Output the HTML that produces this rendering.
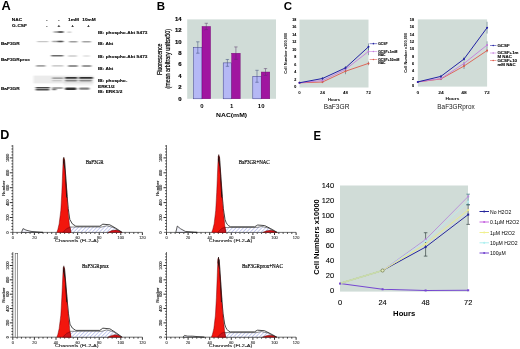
<!DOCTYPE html>
<html lang="en"><head><meta charset="utf-8"><title>Figure</title>
<style>
html,body{margin:0;padding:0;background:#fff;}
body{width:520px;height:349px;overflow:hidden;}
svg{display:block;}
.sf{font-family:"Liberation Sans",sans-serif;}
.se{font-family:"Liberation Serif",serif;}
</style></head><body>
<svg width="520" height="349" viewBox="0 0 520 349">
<defs>
<filter id="b1" x="-20%" y="-100%" width="140%" height="300%"><feGaussianBlur stdDeviation="1.1 0.55"/></filter>
<filter id="b2" x="-20%" y="-100%" width="140%" height="300%"><feGaussianBlur stdDeviation="1.6 0.9"/></filter>
<filter id="soft" x="-5%" y="-5%" width="110%" height="110%"><feGaussianBlur stdDeviation="0.35"/></filter>
<pattern id="hatch" width="2.6" height="2.6" patternUnits="userSpaceOnUse" patternTransform="rotate(-45)"><rect width="2.6" height="2.6" fill="#fff"/><rect width="2.6" height="0.7" fill="#b0b8ea"/></pattern>
</defs>
<rect width="520" height="349" fill="#fff"/>
<g filter="url(#soft)">
<text class="sf" font-size="12.2" font-weight="700" transform="translate(1.50 10.37) scale(1.05 1)" x="0" y="0">A</text>
<text class="sf" font-size="11.5" font-weight="700" x="156.80" y="10.12">B</text>
<text class="sf" font-size="11.5" font-weight="700" x="283.80" y="10.12">C</text>
<text class="sf" font-size="12.6" font-weight="700" x="0.20" y="139.01">D</text>
<text class="sf" font-size="11.9" font-weight="700" transform="translate(313.40 139.76) scale(0.95 1)" x="0" y="0">E</text>
<text class="sf" font-size="4.3" font-weight="700" stroke="#000" stroke-width="0.1" transform="translate(11.80 20.74) scale(1.11 1)" x="0" y="0">NAC</text>
<text class="sf" font-size="4.3" font-weight="700" stroke="#000" stroke-width="0.1" transform="translate(12.10 26.54) scale(1.11 1)" x="0" y="0">G-CSF</text>
<text class="sf" font-size="4.3" font-weight="700" text-anchor="middle" stroke="#000" stroke-width="0.1" transform="translate(46.70 20.74) scale(1.11 1)" x="0" y="0">-</text>
<text class="sf" font-size="4.3" font-weight="700" text-anchor="middle" stroke="#000" stroke-width="0.1" transform="translate(58.80 20.74) scale(1.11 1)" x="0" y="0">-</text>
<text class="sf" font-size="4.3" font-weight="700" text-anchor="middle" stroke="#000" stroke-width="0.1" transform="translate(73.50 20.74) scale(1.11 1)" x="0" y="0">1mM</text>
<text class="sf" font-size="4.3" font-weight="700" text-anchor="middle" stroke="#000" stroke-width="0.1" transform="translate(89.00 20.74) scale(1.11 1)" x="0" y="0">10mM</text>
<text class="sf" font-size="4.3" font-weight="700" text-anchor="middle" stroke="#000" stroke-width="0.1" transform="translate(46.70 26.54) scale(1.11 1)" x="0" y="0">-</text>
<text class="sf" font-size="4.3" font-weight="700" text-anchor="middle" stroke="#000" stroke-width="0.1" transform="translate(58.80 26.54) scale(1.11 1)" x="0" y="0">+</text>
<text class="sf" font-size="4.3" font-weight="700" text-anchor="middle" stroke="#000" stroke-width="0.1" transform="translate(72.70 26.54) scale(1.11 1)" x="0" y="0">+</text>
<text class="sf" font-size="4.3" font-weight="700" text-anchor="middle" stroke="#000" stroke-width="0.1" transform="translate(88.50 26.54) scale(1.11 1)" x="0" y="0">+</text>
<text class="sf" font-size="4.3" font-weight="700" stroke="#000" stroke-width="0.1" transform="translate(0.90 45.14) scale(1.11 1)" x="0" y="0">BaF3GR</text>
<text class="sf" font-size="4.3" font-weight="700" stroke="#000" stroke-width="0.1" transform="translate(0.90 61.04) scale(1.11 1)" x="0" y="0">BaF3GRprox</text>
<text class="sf" font-size="4.3" font-weight="700" stroke="#000" stroke-width="0.1" transform="translate(0.90 89.54) scale(1.11 1)" x="0" y="0">BaF3GR</text>
<text class="sf" font-size="4.3" font-weight="700" stroke="#000" stroke-width="0.1" transform="translate(98.00 33.54) scale(1.11 1)" x="0" y="0">IB: phospho-Akt S473</text>
<text class="sf" font-size="4.3" font-weight="700" stroke="#000" stroke-width="0.1" transform="translate(98.00 44.84) scale(1.11 1)" x="0" y="0">IB: Akt</text>
<text class="sf" font-size="4.3" font-weight="700" stroke="#000" stroke-width="0.1" transform="translate(98.00 58.24) scale(1.11 1)" x="0" y="0">IB: phospho-Akt S473</text>
<text class="sf" font-size="4.3" font-weight="700" stroke="#000" stroke-width="0.1" transform="translate(98.00 70.24) scale(1.11 1)" x="0" y="0">IB: Akt</text>
<text class="sf" font-size="4.3" font-weight="700" stroke="#000" stroke-width="0.1" transform="translate(98.00 82.34) scale(1.11 1)" x="0" y="0">IB: phospho-</text>
<text class="sf" font-size="4.3" font-weight="700" stroke="#000" stroke-width="0.1" transform="translate(98.00 87.84) scale(1.11 1)" x="0" y="0">ERK1/2</text>
<text class="sf" font-size="4.3" font-weight="700" stroke="#000" stroke-width="0.1" transform="translate(98.00 92.74) scale(1.11 1)" x="0" y="0">IB: ERK1/2</text>
<rect x="53.5" y="31.35" width="10.0" height="1.50" rx="0.75" fill="#000" opacity="0.4" filter="url(#b1)"/>
<rect x="58.0" y="31.35" width="5.5" height="1.50" rx="0.75" fill="#000" opacity="0.6" filter="url(#b1)"/>
<rect x="67.3" y="31.45" width="4.0" height="1.30" rx="0.65" fill="#000" opacity="0.25" filter="url(#b1)"/>
<rect x="37.0" y="40.95" width="11.5" height="1.30" rx="0.65" fill="#000" opacity="0.22" filter="url(#b1)"/>
<rect x="52.0" y="40.85" width="11.5" height="1.50" rx="0.75" fill="#000" opacity="0.35" filter="url(#b1)"/>
<rect x="57.5" y="40.85" width="5.8" height="1.50" rx="0.75" fill="#000" opacity="0.5" filter="url(#b1)"/>
<rect x="69.0" y="40.95" width="8.5" height="1.50" rx="0.75" fill="#000" opacity="0.38" filter="url(#b1)"/>
<rect x="82.0" y="40.95" width="9.0" height="1.50" rx="0.75" fill="#000" opacity="0.36" filter="url(#b1)"/>
<rect x="51.0" y="54.95" width="12.5" height="1.60" rx="0.80" fill="#000" opacity="0.58" filter="url(#b1)"/>
<rect x="68.0" y="55.35" width="9.0" height="1.30" rx="0.65" fill="#000" opacity="0.2" filter="url(#b1)"/>
<rect x="83.0" y="55.35" width="7.0" height="1.30" rx="0.65" fill="#000" opacity="0.12" filter="url(#b1)"/>
<rect x="36.0" y="65.00" width="9.5" height="1.80" rx="0.90" fill="#000" opacity="0.36" filter="url(#b1)"/>
<rect x="52.0" y="65.20" width="11.5" height="1.40" rx="0.70" fill="#000" opacity="0.26" filter="url(#b1)"/>
<rect x="68.0" y="65.10" width="9.8" height="1.80" rx="0.90" fill="#000" opacity="0.42" filter="url(#b1)"/>
<rect x="82.0" y="65.10" width="9.5" height="1.80" rx="0.90" fill="#000" opacity="0.4" filter="url(#b1)"/>
<rect x="33.5" y="75.6" width="60" height="7.8" fill="#000" opacity="0.08" filter="url(#b1)"/>
<rect x="64" y="82" width="29" height="3.5" fill="#000" opacity="0.05" filter="url(#b1)"/>
<rect x="52.0" y="77.45" width="11.5" height="1.30" rx="0.65" fill="#000" opacity="0.42" filter="url(#b1)"/>
<rect x="52.0" y="80.15" width="10.0" height="1.10" rx="0.55" fill="#000" opacity="0.2" filter="url(#b1)"/>
<rect x="65.0" y="77.00" width="12.5" height="1.80" rx="0.90" fill="#000" opacity="0.78" filter="url(#b1)"/>
<rect x="65.0" y="79.80" width="12.5" height="1.60" rx="0.80" fill="#000" opacity="0.45" filter="url(#b1)"/>
<rect x="79.0" y="77.00" width="14.0" height="1.80" rx="0.90" fill="#000" opacity="0.8" filter="url(#b1)"/>
<rect x="79.0" y="79.80" width="13.0" height="1.60" rx="0.80" fill="#000" opacity="0.42" filter="url(#b1)"/>
<rect x="35.5" y="87.05" width="14.5" height="1.50" rx="0.75" fill="#000" opacity="0.72" filter="url(#b1)"/>
<rect x="35.5" y="89.05" width="14.0" height="1.50" rx="0.75" fill="#000" opacity="0.7" filter="url(#b1)"/>
<rect x="52.0" y="87.35" width="11.0" height="1.30" rx="0.65" fill="#000" opacity="0.45" filter="url(#b1)"/>
<rect x="52.0" y="88.85" width="4.5" height="1.50" rx="0.75" fill="#000" opacity="0.55" filter="url(#b1)"/>
<rect x="65.0" y="87.40" width="11.5" height="2.60" rx="1.30" fill="#000" opacity="0.8" filter="url(#b1)"/>
<rect x="79.0" y="87.60" width="10.6" height="2.20" rx="1.10" fill="#000" opacity="0.5" filter="url(#b1)"/>
<rect x="187.20" y="19.40" width="88.80" height="79.40" fill="#d0dcd7" />
<text class="sf" font-size="5.0" font-weight="700" text-anchor="end" stroke="#000" stroke-width="0.15" transform="translate(181.60 100.69) scale(1.2 1)" x="0" y="0">0</text>
<text class="sf" font-size="5.0" font-weight="700" text-anchor="end" stroke="#000" stroke-width="0.15" transform="translate(181.60 89.29) scale(1.2 1)" x="0" y="0">2</text>
<text class="sf" font-size="5.0" font-weight="700" text-anchor="end" stroke="#000" stroke-width="0.15" transform="translate(181.60 77.89) scale(1.2 1)" x="0" y="0">4</text>
<text class="sf" font-size="5.0" font-weight="700" text-anchor="end" stroke="#000" stroke-width="0.15" transform="translate(181.60 66.49) scale(1.2 1)" x="0" y="0">6</text>
<text class="sf" font-size="5.0" font-weight="700" text-anchor="end" stroke="#000" stroke-width="0.15" transform="translate(181.60 55.09) scale(1.2 1)" x="0" y="0">8</text>
<text class="sf" font-size="5.0" font-weight="700" text-anchor="end" stroke="#000" stroke-width="0.15" transform="translate(181.60 43.69) scale(1.2 1)" x="0" y="0">10</text>
<text class="sf" font-size="5.0" font-weight="700" text-anchor="end" stroke="#000" stroke-width="0.15" transform="translate(181.60 32.29) scale(1.2 1)" x="0" y="0">12</text>
<text class="sf" font-size="5.0" font-weight="700" text-anchor="end" stroke="#000" stroke-width="0.15" transform="translate(181.60 20.89) scale(1.2 1)" x="0" y="0">14</text>
<rect x="193.60" y="47.50" width="8.40" height="51.30" fill="#b5b8f5" stroke="#3a3a8a" stroke-width="0.5" />
<rect x="202.00" y="26.41" width="8.60" height="72.39" fill="#a012a0" stroke="#701070" stroke-width="0.4" />
<line x1="197.80" y1="41.80" x2="197.80" y2="53.20" stroke="#3a4a7a" stroke-width="0.5" />
<line x1="196.10" y1="41.80" x2="199.50" y2="41.80" stroke="#3a4a7a" stroke-width="0.5" />
<line x1="196.10" y1="53.20" x2="199.50" y2="53.20" stroke="#3a4a7a" stroke-width="0.5" />
<line x1="206.30" y1="23.28" x2="206.30" y2="29.55" stroke="#5a3a6a" stroke-width="0.5" />
<line x1="204.60" y1="23.28" x2="208.00" y2="23.28" stroke="#5a3a6a" stroke-width="0.5" />
<line x1="204.60" y1="29.55" x2="208.00" y2="29.55" stroke="#5a3a6a" stroke-width="0.5" />
<text class="sf" font-size="5.0" font-weight="700" text-anchor="middle" transform="translate(202.00 107.99) scale(1.2 1)" x="0" y="0">0</text>
<rect x="223.20" y="62.89" width="8.40" height="35.91" fill="#b5b8f5" stroke="#3a3a8a" stroke-width="0.5" />
<rect x="231.60" y="53.20" width="8.60" height="45.60" fill="#a012a0" stroke="#701070" stroke-width="0.4" />
<line x1="227.40" y1="59.47" x2="227.40" y2="66.31" stroke="#3a4a7a" stroke-width="0.5" />
<line x1="225.70" y1="59.47" x2="229.10" y2="59.47" stroke="#3a4a7a" stroke-width="0.5" />
<line x1="225.70" y1="66.31" x2="229.10" y2="66.31" stroke="#3a4a7a" stroke-width="0.5" />
<line x1="235.90" y1="46.93" x2="235.90" y2="59.47" stroke="#5a3a6a" stroke-width="0.5" />
<line x1="234.20" y1="46.93" x2="237.60" y2="46.93" stroke="#5a3a6a" stroke-width="0.5" />
<line x1="234.20" y1="59.47" x2="237.60" y2="59.47" stroke="#5a3a6a" stroke-width="0.5" />
<text class="sf" font-size="5.0" font-weight="700" text-anchor="middle" transform="translate(231.60 107.99) scale(1.2 1)" x="0" y="0">1</text>
<rect x="252.80" y="76.28" width="8.40" height="22.52" fill="#b5b8f5" stroke="#3a3a8a" stroke-width="0.5" />
<rect x="261.20" y="72.01" width="8.60" height="26.79" fill="#a012a0" stroke="#701070" stroke-width="0.4" />
<line x1="257.00" y1="70.30" x2="257.00" y2="82.27" stroke="#3a4a7a" stroke-width="0.5" />
<line x1="255.30" y1="70.30" x2="258.70" y2="70.30" stroke="#3a4a7a" stroke-width="0.5" />
<line x1="255.30" y1="82.27" x2="258.70" y2="82.27" stroke="#3a4a7a" stroke-width="0.5" />
<line x1="265.50" y1="68.59" x2="265.50" y2="75.43" stroke="#5a3a6a" stroke-width="0.5" />
<line x1="263.80" y1="68.59" x2="267.20" y2="68.59" stroke="#5a3a6a" stroke-width="0.5" />
<line x1="263.80" y1="75.43" x2="267.20" y2="75.43" stroke="#5a3a6a" stroke-width="0.5" />
<text class="sf" font-size="5.0" font-weight="700" text-anchor="middle" transform="translate(261.20 107.99) scale(1.2 1)" x="0" y="0">10</text>
<text class="sf" font-size="5.0" font-weight="700" text-anchor="middle" textLength="31" lengthAdjust="spacingAndGlyphs" x="231.60" y="116.79">NAC(mM)</text>
<text class="sf" font-size="6.7" text-anchor="middle" textLength="31.5" lengthAdjust="spacingAndGlyphs" stroke="#000" stroke-width="0.2" transform="translate(159.70 59.20) rotate(-90)" x="0" y="2.01">Fluorescence</text>
<text class="sf" font-size="6.7" text-anchor="middle" textLength="59.6" lengthAdjust="spacingAndGlyphs" stroke="#000" stroke-width="0.2" transform="translate(167.80 58.80) rotate(-90)" x="0" y="2.01">(mean arbitrary unitsx50)</text>
<rect x="299.50" y="19.60" width="69.00" height="67.90" fill="#d0dcd7" />
<text class="sf" font-size="3.65" font-weight="700" text-anchor="end" stroke="#000" stroke-width="0.1" x="296.30" y="88.11">0</text>
<text class="sf" font-size="3.65" font-weight="700" text-anchor="end" stroke="#000" stroke-width="0.1" x="296.30" y="80.65">2</text>
<text class="sf" font-size="3.65" font-weight="700" text-anchor="end" stroke="#000" stroke-width="0.1" x="296.30" y="73.20">4</text>
<text class="sf" font-size="3.65" font-weight="700" text-anchor="end" stroke="#000" stroke-width="0.1" x="296.30" y="65.74">6</text>
<text class="sf" font-size="3.65" font-weight="700" text-anchor="end" stroke="#000" stroke-width="0.1" x="296.30" y="58.28">8</text>
<text class="sf" font-size="3.65" font-weight="700" text-anchor="end" stroke="#000" stroke-width="0.1" x="296.30" y="50.83">10</text>
<text class="sf" font-size="3.65" font-weight="700" text-anchor="end" stroke="#000" stroke-width="0.1" x="296.30" y="43.37">12</text>
<text class="sf" font-size="3.65" font-weight="700" text-anchor="end" stroke="#000" stroke-width="0.1" x="296.30" y="35.92">14</text>
<text class="sf" font-size="3.65" font-weight="700" text-anchor="end" stroke="#000" stroke-width="0.1" x="296.30" y="28.46">16</text>
<text class="sf" font-size="3.65" font-weight="700" text-anchor="end" stroke="#000" stroke-width="0.1" x="296.30" y="21.01">18</text>
<text class="sf" font-size="3.8" font-weight="700" text-anchor="middle" transform="translate(299.50 93.96) scale(1.15 1)" x="0" y="0">0</text>
<text class="sf" font-size="3.8" font-weight="700" text-anchor="middle" transform="translate(322.50 93.96) scale(1.15 1)" x="0" y="0">24</text>
<text class="sf" font-size="3.8" font-weight="700" text-anchor="middle" transform="translate(345.50 93.96) scale(1.15 1)" x="0" y="0">48</text>
<text class="sf" font-size="3.8" font-weight="700" text-anchor="middle" transform="translate(368.50 93.96) scale(1.15 1)" x="0" y="0">72</text>
<text class="sf" font-size="3.8" font-weight="700" text-anchor="middle" transform="translate(334.00 101.16) scale(1.12 1)" x="0" y="0">Hours</text>
<text class="sf" font-size="6.6" text-anchor="middle" fill="#222" x="336.60" y="109.06">BaF3GR</text>
<text class="sf" font-size="3.7" font-weight="700" text-anchor="middle" textLength="41.0" lengthAdjust="spacingAndGlyphs" transform="translate(286.00 53.20) rotate(-90)" x="0" y="1.32">Cell Number x100,000</text>
<line x1="322.50" y1="80.91" x2="322.50" y2="83.14" stroke="#3a5a6a" stroke-width="0.5" />
<line x1="345.50" y1="68.23" x2="345.50" y2="74.20" stroke="#3a5a6a" stroke-width="0.5" />
<line x1="368.50" y1="61.52" x2="368.50" y2="65.25" stroke="#3a5a6a" stroke-width="0.5" />
<polyline points="299.50,82.77 322.50,82.03 345.50,71.22 368.50,63.39" fill="none" stroke="#dc5a4c" stroke-width="0.9" stroke-linejoin="round" />
<circle cx="299.50" cy="82.77" r="1.0" fill="#dc5a4c"/>
<circle cx="322.50" cy="82.03" r="1.0" fill="#dc5a4c"/>
<circle cx="345.50" cy="71.22" r="1.0" fill="#dc5a4c"/>
<circle cx="368.50" cy="63.39" r="1.0" fill="#dc5a4c"/>
<line x1="322.50" y1="79.42" x2="322.50" y2="81.65" stroke="#3a5a6a" stroke-width="0.5" />
<line x1="345.50" y1="67.86" x2="345.50" y2="70.84" stroke="#3a5a6a" stroke-width="0.5" />
<line x1="368.50" y1="47.73" x2="368.50" y2="55.19" stroke="#3a5a6a" stroke-width="0.5" />
<polyline points="299.50,82.77 322.50,80.54 345.50,69.35 368.50,51.46" fill="none" stroke="#c47cdc" stroke-width="0.9" stroke-linejoin="round" />
<circle cx="299.50" cy="82.77" r="1.0" fill="#c47cdc"/>
<circle cx="322.50" cy="80.54" r="1.0" fill="#c47cdc"/>
<circle cx="345.50" cy="69.35" r="1.0" fill="#c47cdc"/>
<circle cx="368.50" cy="51.46" r="1.0" fill="#c47cdc"/>
<line x1="322.50" y1="76.99" x2="322.50" y2="79.98" stroke="#3a5a6a" stroke-width="0.5" />
<line x1="345.50" y1="66.00" x2="345.50" y2="69.72" stroke="#3a5a6a" stroke-width="0.5" />
<line x1="368.50" y1="43.44" x2="368.50" y2="50.15" stroke="#3a5a6a" stroke-width="0.5" />
<polyline points="299.50,82.77 322.50,78.49 345.50,67.86 368.50,46.80" fill="none" stroke="#2222a4" stroke-width="1.0" stroke-linejoin="round" />
<circle cx="299.50" cy="82.77" r="1.0" fill="#2222a4"/>
<circle cx="322.50" cy="78.49" r="1.0" fill="#2222a4"/>
<circle cx="345.50" cy="67.86" r="1.0" fill="#2222a4"/>
<circle cx="368.50" cy="46.80" r="1.0" fill="#2222a4"/>
<line x1="369.60" y1="43.65" x2="377.20" y2="43.65" stroke="#2222a4" stroke-width="0.55" />
<circle cx="373.40" cy="43.65" r="0.8" fill="#2222a4"/>
<text class="sf" font-size="2.9" font-weight="700" stroke="#000" stroke-width="0.08" transform="translate(378.20 44.69) scale(1.18 1)" x="0" y="0">GCSF</text>
<line x1="369.60" y1="51.50" x2="377.20" y2="51.50" stroke="#c47cdc" stroke-width="0.55" />
<circle cx="373.40" cy="51.50" r="0.8" fill="#c47cdc"/>
<text class="sf" font-size="2.9" font-weight="700" stroke="#000" stroke-width="0.08" transform="translate(378.20 52.54) scale(1.18 1)" x="0" y="0">GCSF+1mM</text>
<text class="sf" font-size="2.9" font-weight="700" stroke="#000" stroke-width="0.08" transform="translate(378.20 55.94) scale(1.18 1)" x="0" y="0">NAC</text>
<line x1="369.60" y1="59.50" x2="377.20" y2="59.50" stroke="#dc5a4c" stroke-width="0.55" />
<circle cx="373.40" cy="59.50" r="0.8" fill="#dc5a4c"/>
<text class="sf" font-size="2.9" font-weight="700" stroke="#000" stroke-width="0.08" transform="translate(378.20 60.54) scale(1.18 1)" x="0" y="0">GCSF+10mM</text>
<text class="sf" font-size="2.9" font-weight="700" stroke="#000" stroke-width="0.08" transform="translate(378.20 63.84) scale(1.18 1)" x="0" y="0">NAC</text>
<rect x="417.80" y="19.40" width="69.30" height="67.20" fill="#d0dcd7" />
<text class="sf" font-size="3.75" font-weight="700" text-anchor="end" stroke="#000" stroke-width="0.1" x="414.00" y="87.24">0</text>
<text class="sf" font-size="3.75" font-weight="700" text-anchor="end" stroke="#000" stroke-width="0.1" x="414.00" y="79.86">2</text>
<text class="sf" font-size="3.75" font-weight="700" text-anchor="end" stroke="#000" stroke-width="0.1" x="414.00" y="72.49">4</text>
<text class="sf" font-size="3.75" font-weight="700" text-anchor="end" stroke="#000" stroke-width="0.1" x="414.00" y="65.11">6</text>
<text class="sf" font-size="3.75" font-weight="700" text-anchor="end" stroke="#000" stroke-width="0.1" x="414.00" y="57.73">8</text>
<text class="sf" font-size="3.75" font-weight="700" text-anchor="end" stroke="#000" stroke-width="0.1" x="414.00" y="50.35">10</text>
<text class="sf" font-size="3.75" font-weight="700" text-anchor="end" stroke="#000" stroke-width="0.1" x="414.00" y="42.98">12</text>
<text class="sf" font-size="3.75" font-weight="700" text-anchor="end" stroke="#000" stroke-width="0.1" x="414.00" y="35.60">14</text>
<text class="sf" font-size="3.75" font-weight="700" text-anchor="end" stroke="#000" stroke-width="0.1" x="414.00" y="28.22">16</text>
<text class="sf" font-size="3.75" font-weight="700" text-anchor="end" stroke="#000" stroke-width="0.1" x="414.00" y="20.84">18</text>
<text class="sf" font-size="4.3" font-weight="700" text-anchor="middle" transform="translate(417.80 93.54) scale(1.15 1)" x="0" y="0">0</text>
<text class="sf" font-size="4.3" font-weight="700" text-anchor="middle" transform="translate(440.90 93.54) scale(1.15 1)" x="0" y="0">24</text>
<text class="sf" font-size="4.3" font-weight="700" text-anchor="middle" transform="translate(464.00 93.54) scale(1.15 1)" x="0" y="0">48</text>
<text class="sf" font-size="4.3" font-weight="700" text-anchor="middle" transform="translate(487.10 93.54) scale(1.15 1)" x="0" y="0">72</text>
<text class="sf" font-size="4.3" font-weight="700" text-anchor="middle" transform="translate(452.40 99.84) scale(1.12 1)" x="0" y="0">Hours</text>
<text class="sf" font-size="6.4" text-anchor="middle" fill="#222" x="456.00" y="108.99">BaF3GRprox</text>
<text class="sf" font-size="3.9" font-weight="700" text-anchor="middle" textLength="39.8" lengthAdjust="spacingAndGlyphs" transform="translate(405.10 52.80) rotate(-90)" x="0" y="1.40">Cell Number x100,000</text>
<line x1="440.90" y1="77.85" x2="440.90" y2="80.07" stroke="#3a5a6a" stroke-width="0.5" />
<line x1="464.00" y1="63.10" x2="464.00" y2="69.00" stroke="#3a5a6a" stroke-width="0.5" />
<line x1="487.10" y1="48.71" x2="487.10" y2="52.40" stroke="#3a5a6a" stroke-width="0.5" />
<polyline points="417.80,81.91 440.90,78.96 464.00,66.05 487.10,50.56" fill="none" stroke="#dc5a4c" stroke-width="0.9" stroke-linejoin="round" />
<circle cx="417.80" cy="81.91" r="1.0" fill="#dc5a4c"/>
<circle cx="440.90" cy="78.96" r="1.0" fill="#dc5a4c"/>
<circle cx="464.00" cy="66.05" r="1.0" fill="#dc5a4c"/>
<circle cx="487.10" cy="50.56" r="1.0" fill="#dc5a4c"/>
<line x1="440.90" y1="77.48" x2="440.90" y2="79.70" stroke="#3a5a6a" stroke-width="0.5" />
<line x1="464.00" y1="61.99" x2="464.00" y2="64.94" stroke="#3a5a6a" stroke-width="0.5" />
<line x1="487.10" y1="41.33" x2="487.10" y2="48.71" stroke="#3a5a6a" stroke-width="0.5" />
<polyline points="417.80,81.91 440.90,78.59 464.00,63.47 487.10,45.02" fill="none" stroke="#c47cdc" stroke-width="0.9" stroke-linejoin="round" />
<circle cx="417.80" cy="81.91" r="1.0" fill="#c47cdc"/>
<circle cx="440.90" cy="78.59" r="1.0" fill="#c47cdc"/>
<circle cx="464.00" cy="63.47" r="1.0" fill="#c47cdc"/>
<circle cx="487.10" cy="45.02" r="1.0" fill="#c47cdc"/>
<line x1="440.90" y1="74.90" x2="440.90" y2="77.85" stroke="#3a5a6a" stroke-width="0.5" />
<line x1="464.00" y1="56.83" x2="464.00" y2="61.25" stroke="#3a5a6a" stroke-width="0.5" />
<line x1="487.10" y1="21.78" x2="487.10" y2="33.59" stroke="#3a5a6a" stroke-width="0.5" />
<polyline points="417.80,81.91 440.90,76.38 464.00,59.04 487.10,27.68" fill="none" stroke="#2222a4" stroke-width="1.0" stroke-linejoin="round" />
<circle cx="417.80" cy="81.91" r="1.0" fill="#2222a4"/>
<circle cx="440.90" cy="76.38" r="1.0" fill="#2222a4"/>
<circle cx="464.00" cy="59.04" r="1.0" fill="#2222a4"/>
<circle cx="487.10" cy="27.68" r="1.0" fill="#2222a4"/>
<line x1="490.00" y1="45.50" x2="496.40" y2="45.50" stroke="#2222a4" stroke-width="0.55" />
<circle cx="493.20" cy="45.50" r="0.8" fill="#2222a4"/>
<text class="sf" font-size="3.5" font-weight="700" stroke="#000" stroke-width="0.08" transform="translate(497.40 46.85) scale(1.26 1)" x="0" y="0">GCSF</text>
<line x1="490.00" y1="53.00" x2="496.40" y2="53.00" stroke="#c47cdc" stroke-width="0.55" />
<circle cx="493.20" cy="53.00" r="0.8" fill="#c47cdc"/>
<text class="sf" font-size="3.5" font-weight="700" stroke="#000" stroke-width="0.08" transform="translate(497.40 54.25) scale(1.26 1)" x="0" y="0">GCSF+1m</text>
<text class="sf" font-size="3.5" font-weight="700" stroke="#000" stroke-width="0.08" transform="translate(497.40 58.05) scale(1.26 1)" x="0" y="0">M NAC</text>
<line x1="490.00" y1="60.50" x2="496.40" y2="60.50" stroke="#dc5a4c" stroke-width="0.55" />
<circle cx="493.20" cy="60.50" r="0.8" fill="#dc5a4c"/>
<text class="sf" font-size="3.5" font-weight="700" stroke="#000" stroke-width="0.08" transform="translate(497.40 61.75) scale(1.26 1)" x="0" y="0">GCSF+10</text>
<text class="sf" font-size="3.5" font-weight="700" stroke="#000" stroke-width="0.08" transform="translate(497.40 65.95) scale(1.26 1)" x="0" y="0">mM NAC</text>
<line x1="12.80" y1="145.20" x2="12.80" y2="232.40" stroke="#1a1a1a" stroke-width="0.6" />
<line x1="10.20" y1="232.40" x2="142.40" y2="232.40" stroke="#1a1a1a" stroke-width="0.6" />
<path d="M11.50 229.42H12.80M11.50 226.44H12.80M11.50 223.46H12.80M11.50 220.48H12.80M9.80 217.50H12.80M11.50 214.52H12.80M11.50 211.54H12.80M11.50 208.56H12.80M11.50 205.58H12.80M9.80 202.60H12.80M11.50 199.62H12.80M11.50 196.64H12.80M11.50 193.66H12.80M11.50 190.68H12.80M9.80 187.70H12.80M11.50 184.72H12.80M11.50 181.74H12.80M11.50 178.76H12.80M11.50 175.78H12.80M9.80 172.80H12.80M11.50 169.82H12.80M11.50 166.84H12.80M11.50 163.86H12.80M11.50 160.88H12.80M9.80 157.90H12.80M11.50 154.92H12.80M11.50 151.94H12.80M11.50 148.96H12.80M11.50 145.98H12.80" fill="none" stroke="#1a1a1a" stroke-width="0.9" />
<text class="sf" font-size="3.8" text-anchor="middle" fill="#222" stroke="#222" stroke-width="0.1" transform="translate(7.40 217.50) rotate(-90)" x="0" y="1.36">200</text>
<text class="sf" font-size="3.8" text-anchor="middle" fill="#222" stroke="#222" stroke-width="0.1" transform="translate(7.40 202.60) rotate(-90)" x="0" y="1.36">400</text>
<text class="sf" font-size="3.8" text-anchor="middle" fill="#222" stroke="#222" stroke-width="0.1" transform="translate(7.40 187.70) rotate(-90)" x="0" y="1.36">600</text>
<text class="sf" font-size="3.8" text-anchor="middle" fill="#222" stroke="#222" stroke-width="0.1" transform="translate(7.40 172.80) rotate(-90)" x="0" y="1.36">800</text>
<text class="sf" font-size="3.8" text-anchor="middle" fill="#222" stroke="#222" stroke-width="0.1" transform="translate(7.40 157.90) rotate(-90)" x="0" y="1.36">1000</text>
<text class="sf" font-size="3.8" text-anchor="middle" fill="#222" stroke="#222" stroke-width="0.1" transform="translate(7.40 232.40) rotate(-90)" x="0" y="1.36">0</text>
<text class="sf" font-size="4.4" text-anchor="middle" textLength="15" lengthAdjust="spacingAndGlyphs" fill="#222" stroke="#222" stroke-width="0.12" transform="translate(3.30 188.20) rotate(-90)" x="0" y="1.58">Number</text>
<path d="M12.80 232.4v2.6M17.12 232.4v1.4M21.44 232.4v1.4M25.76 232.4v1.4M30.08 232.4v1.4M34.40 232.4v2.6M38.72 232.4v1.4M43.04 232.4v1.4M47.36 232.4v1.4M51.68 232.4v1.4M56.00 232.4v2.6M60.32 232.4v1.4M64.64 232.4v1.4M68.96 232.4v1.4M73.28 232.4v1.4M77.60 232.4v2.6M81.92 232.4v1.4M86.24 232.4v1.4M90.56 232.4v1.4M94.88 232.4v1.4M99.20 232.4v2.6M103.52 232.4v1.4M107.84 232.4v1.4M112.16 232.4v1.4M116.48 232.4v1.4M120.80 232.4v2.6M125.12 232.4v1.4M129.44 232.4v1.4M133.76 232.4v1.4M138.08 232.4v1.4M142.40 232.4v2.6" fill="none" stroke="#1a1a1a" stroke-width="0.9" />
<text class="sf" font-size="3.9" text-anchor="middle" fill="#333" stroke="#333" stroke-width="0.1" x="12.80" y="239.30">0</text>
<text class="sf" font-size="3.9" text-anchor="middle" fill="#333" stroke="#333" stroke-width="0.1" x="34.40" y="239.30">20</text>
<text class="sf" font-size="3.9" text-anchor="middle" fill="#333" stroke="#333" stroke-width="0.1" x="56.00" y="239.30">40</text>
<text class="sf" font-size="3.9" text-anchor="middle" fill="#333" stroke="#333" stroke-width="0.1" x="77.60" y="239.30">60</text>
<text class="sf" font-size="3.9" text-anchor="middle" fill="#333" stroke="#333" stroke-width="0.1" x="99.20" y="239.30">80</text>
<text class="sf" font-size="3.9" text-anchor="middle" fill="#333" stroke="#333" stroke-width="0.1" x="120.80" y="239.30">100</text>
<text class="sf" font-size="3.9" text-anchor="middle" fill="#333" stroke="#333" stroke-width="0.1" x="142.40" y="239.30">120</text>
<text class="sf" font-size="4.3" textLength="43.5" lengthAdjust="spacingAndGlyphs" fill="#222" stroke="#222" stroke-width="0.1" x="55.10" y="242.44">Channels (FL2-A)</text>
<text class="se" font-size="5.4" textLength="17.8" lengthAdjust="spacingAndGlyphs" fill="#111" stroke="#111" stroke-width="0.2" x="85.70" y="163.58">BaF3GR</text>
<path d="M67.2 232.4 L68.8 227.0 L101.8 227.0 L106.8 225.8 L113.8 227.6 L120.8 232.4 Z" fill="url(#hatch)" stroke="#1a1a1a" stroke-width="0.5" />
<path d="M107.8 232.4 Q115.8 227.8 122.2 232.4 Z" fill="#d81014" stroke="#300" stroke-width="0.4" />
<path d="M64.5 159.5 L67.2 196.4 L68.2 208.4 L69.8 219.4 Q71.8 224.9 75.8 226.2 L99.8 226.2 L102.8 224.2 L109.8 224.8 L115.8 228.2 L122.2 232.4" fill="none" stroke="#1a1a1a" stroke-width="0.8" />
<path d="M56.8 232.4 L57.8 229.6 L59.1 223.9 L60.8 210.4 L61.8 192.4 L63.2 158.5 L64.2 158.5 L67.0 196.4 L68.3 212.4 L69.5 225.4 L71.0 232.4 Z" fill="#f2120e" stroke="#500" stroke-width="0.4" />
<path d="M63.0 162.5 L63.5 156.9 L64.2 156.9 L67.2 197.4 L66.2 197.4 L64.7 169.5 Z" fill="#2a0a0a" />
<path d="M62.8 232.4 Q66.8 227.4 70.0 227.2 L71.0 232.4 Z" fill="#c8141c" stroke="#600" stroke-width="0.4" />
<path d="M21.5 232.4 L23.0 228.6 L26.0 230.1 L31.0 231.4 L43.0 232.4 Z" fill="#f2f3fc" stroke="#1a1a1a" stroke-width="0.7" />
<line x1="166.50" y1="145.20" x2="166.50" y2="232.40" stroke="#1a1a1a" stroke-width="0.6" />
<line x1="163.90" y1="232.40" x2="296.10" y2="232.40" stroke="#1a1a1a" stroke-width="0.6" />
<path d="M165.20 229.42H166.50M165.20 226.44H166.50M165.20 223.46H166.50M165.20 220.48H166.50M163.50 217.50H166.50M165.20 214.52H166.50M165.20 211.54H166.50M165.20 208.56H166.50M165.20 205.58H166.50M163.50 202.60H166.50M165.20 199.62H166.50M165.20 196.64H166.50M165.20 193.66H166.50M165.20 190.68H166.50M163.50 187.70H166.50M165.20 184.72H166.50M165.20 181.74H166.50M165.20 178.76H166.50M165.20 175.78H166.50M163.50 172.80H166.50M165.20 169.82H166.50M165.20 166.84H166.50M165.20 163.86H166.50M165.20 160.88H166.50M163.50 157.90H166.50M165.20 154.92H166.50M165.20 151.94H166.50M165.20 148.96H166.50M165.20 145.98H166.50" fill="none" stroke="#1a1a1a" stroke-width="0.9" />
<text class="sf" font-size="3.8" text-anchor="middle" fill="#222" stroke="#222" stroke-width="0.1" transform="translate(161.10 217.50) rotate(-90)" x="0" y="1.36">200</text>
<text class="sf" font-size="3.8" text-anchor="middle" fill="#222" stroke="#222" stroke-width="0.1" transform="translate(161.10 202.60) rotate(-90)" x="0" y="1.36">400</text>
<text class="sf" font-size="3.8" text-anchor="middle" fill="#222" stroke="#222" stroke-width="0.1" transform="translate(161.10 187.70) rotate(-90)" x="0" y="1.36">600</text>
<text class="sf" font-size="3.8" text-anchor="middle" fill="#222" stroke="#222" stroke-width="0.1" transform="translate(161.10 172.80) rotate(-90)" x="0" y="1.36">800</text>
<text class="sf" font-size="3.8" text-anchor="middle" fill="#222" stroke="#222" stroke-width="0.1" transform="translate(161.10 157.90) rotate(-90)" x="0" y="1.36">1000</text>
<text class="sf" font-size="3.8" text-anchor="middle" fill="#222" stroke="#222" stroke-width="0.1" transform="translate(161.10 232.40) rotate(-90)" x="0" y="1.36">0</text>
<text class="sf" font-size="4.4" text-anchor="middle" textLength="15" lengthAdjust="spacingAndGlyphs" fill="#222" stroke="#222" stroke-width="0.12" transform="translate(157.00 188.20) rotate(-90)" x="0" y="1.58">Number</text>
<path d="M166.50 232.4v2.6M170.82 232.4v1.4M175.14 232.4v1.4M179.46 232.4v1.4M183.78 232.4v1.4M188.10 232.4v2.6M192.42 232.4v1.4M196.74 232.4v1.4M201.06 232.4v1.4M205.38 232.4v1.4M209.70 232.4v2.6M214.02 232.4v1.4M218.34 232.4v1.4M222.66 232.4v1.4M226.98 232.4v1.4M231.30 232.4v2.6M235.62 232.4v1.4M239.94 232.4v1.4M244.26 232.4v1.4M248.58 232.4v1.4M252.90 232.4v2.6M257.22 232.4v1.4M261.54 232.4v1.4M265.86 232.4v1.4M270.18 232.4v1.4M274.50 232.4v2.6M278.82 232.4v1.4M283.14 232.4v1.4M287.46 232.4v1.4M291.78 232.4v1.4M296.10 232.4v2.6" fill="none" stroke="#1a1a1a" stroke-width="0.9" />
<text class="sf" font-size="3.9" text-anchor="middle" fill="#333" stroke="#333" stroke-width="0.1" x="166.50" y="239.30">0</text>
<text class="sf" font-size="3.9" text-anchor="middle" fill="#333" stroke="#333" stroke-width="0.1" x="188.10" y="239.30">20</text>
<text class="sf" font-size="3.9" text-anchor="middle" fill="#333" stroke="#333" stroke-width="0.1" x="209.70" y="239.30">40</text>
<text class="sf" font-size="3.9" text-anchor="middle" fill="#333" stroke="#333" stroke-width="0.1" x="231.30" y="239.30">60</text>
<text class="sf" font-size="3.9" text-anchor="middle" fill="#333" stroke="#333" stroke-width="0.1" x="252.90" y="239.30">80</text>
<text class="sf" font-size="3.9" text-anchor="middle" fill="#333" stroke="#333" stroke-width="0.1" x="274.50" y="239.30">100</text>
<text class="sf" font-size="3.9" text-anchor="middle" fill="#333" stroke="#333" stroke-width="0.1" x="296.10" y="239.30">120</text>
<text class="sf" font-size="4.3" textLength="43.5" lengthAdjust="spacingAndGlyphs" fill="#222" stroke="#222" stroke-width="0.1" x="208.80" y="242.44">Channels (FL2-A)</text>
<text class="se" font-size="5.4" textLength="31" lengthAdjust="spacingAndGlyphs" fill="#111" stroke="#111" stroke-width="0.2" x="238.70" y="163.58">BaF3GR+NAC</text>
<path d="M222.2 232.4 L223.7 227.5 L256.7 227.5 L261.7 226.5 L268.7 228.1 L275.7 232.4 Z" fill="url(#hatch)" stroke="#1a1a1a" stroke-width="0.5" />
<path d="M262.7 232.4 Q270.7 228.3 277.2 232.4 Z" fill="#d81014" stroke="#300" stroke-width="0.4" />
<path d="M219.5 157.0 L222.3 196.4 L223.3 208.4 L225.0 219.4 Q226.7 225.7 230.7 226.8 L254.7 226.8 L257.7 225.0 L264.7 225.6 L270.7 228.6 L277.2 232.4" fill="none" stroke="#1a1a1a" stroke-width="0.8" />
<path d="M211.7 232.4 L212.7 229.6 L214.1 223.9 L215.7 210.4 L216.7 192.4 L218.2 156.0 L219.2 156.0 L222.1 196.4 L223.5 212.4 L224.8 225.4 L225.9 232.4 Z" fill="#f2120e" stroke="#500" stroke-width="0.4" />
<path d="M217.9 160.0 L218.4 154.4 L219.2 154.4 L222.3 197.4 L221.3 197.4 L219.6 167.0 Z" fill="#2a0a0a" />
<path d="M217.7 232.4 Q221.7 227.4 224.9 227.2 L225.9 232.4 Z" fill="#c8141c" stroke="#600" stroke-width="0.4" />
<path d="M175.8 232.4 L177.3 226.1 L180.3 228.6 L185.3 231.4 L197.3 232.4 Z" fill="#f2f3fc" stroke="#1a1a1a" stroke-width="0.7" />
<line x1="12.80" y1="252.00" x2="12.80" y2="337.20" stroke="#1a1a1a" stroke-width="0.6" />
<line x1="10.20" y1="337.20" x2="142.40" y2="337.20" stroke="#1a1a1a" stroke-width="0.6" />
<path d="M11.50 334.33H12.80M11.50 331.46H12.80M11.50 328.60H12.80M11.50 325.73H12.80M9.80 322.86H12.80M11.50 319.99H12.80M11.50 317.12H12.80M11.50 314.26H12.80M11.50 311.39H12.80M9.80 308.52H12.80M11.50 305.65H12.80M11.50 302.78H12.80M11.50 299.92H12.80M11.50 297.05H12.80M9.80 294.18H12.80M11.50 291.31H12.80M11.50 288.44H12.80M11.50 285.58H12.80M11.50 282.71H12.80M9.80 279.84H12.80M11.50 276.97H12.80M11.50 274.10H12.80M11.50 271.24H12.80M11.50 268.37H12.80M9.80 265.50H12.80M11.50 262.63H12.80M11.50 259.76H12.80M11.50 256.90H12.80M11.50 254.03H12.80" fill="none" stroke="#1a1a1a" stroke-width="0.9" />
<text class="sf" font-size="3.8" text-anchor="middle" fill="#222" stroke="#222" stroke-width="0.1" transform="translate(7.40 322.86) rotate(-90)" x="0" y="1.36">200</text>
<text class="sf" font-size="3.8" text-anchor="middle" fill="#222" stroke="#222" stroke-width="0.1" transform="translate(7.40 308.52) rotate(-90)" x="0" y="1.36">400</text>
<text class="sf" font-size="3.8" text-anchor="middle" fill="#222" stroke="#222" stroke-width="0.1" transform="translate(7.40 294.18) rotate(-90)" x="0" y="1.36">600</text>
<text class="sf" font-size="3.8" text-anchor="middle" fill="#222" stroke="#222" stroke-width="0.1" transform="translate(7.40 279.84) rotate(-90)" x="0" y="1.36">800</text>
<text class="sf" font-size="3.8" text-anchor="middle" fill="#222" stroke="#222" stroke-width="0.1" transform="translate(7.40 265.50) rotate(-90)" x="0" y="1.36">1000</text>
<text class="sf" font-size="3.8" text-anchor="middle" fill="#222" stroke="#222" stroke-width="0.1" transform="translate(7.40 337.20) rotate(-90)" x="0" y="1.36">0</text>
<text class="sf" font-size="4.4" text-anchor="middle" textLength="15" lengthAdjust="spacingAndGlyphs" fill="#222" stroke="#222" stroke-width="0.12" transform="translate(3.30 295.00) rotate(-90)" x="0" y="1.58">Number</text>
<path d="M12.80 337.2v2.6M17.12 337.2v1.4M21.44 337.2v1.4M25.76 337.2v1.4M30.08 337.2v1.4M34.40 337.2v2.6M38.72 337.2v1.4M43.04 337.2v1.4M47.36 337.2v1.4M51.68 337.2v1.4M56.00 337.2v2.6M60.32 337.2v1.4M64.64 337.2v1.4M68.96 337.2v1.4M73.28 337.2v1.4M77.60 337.2v2.6M81.92 337.2v1.4M86.24 337.2v1.4M90.56 337.2v1.4M94.88 337.2v1.4M99.20 337.2v2.6M103.52 337.2v1.4M107.84 337.2v1.4M112.16 337.2v1.4M116.48 337.2v1.4M120.80 337.2v2.6M125.12 337.2v1.4M129.44 337.2v1.4M133.76 337.2v1.4M138.08 337.2v1.4M142.40 337.2v2.6" fill="none" stroke="#1a1a1a" stroke-width="0.9" />
<text class="sf" font-size="3.9" text-anchor="middle" fill="#333" stroke="#333" stroke-width="0.1" x="12.80" y="344.10">0</text>
<text class="sf" font-size="3.9" text-anchor="middle" fill="#333" stroke="#333" stroke-width="0.1" x="34.40" y="344.10">20</text>
<text class="sf" font-size="3.9" text-anchor="middle" fill="#333" stroke="#333" stroke-width="0.1" x="56.00" y="344.10">40</text>
<text class="sf" font-size="3.9" text-anchor="middle" fill="#333" stroke="#333" stroke-width="0.1" x="77.60" y="344.10">60</text>
<text class="sf" font-size="3.9" text-anchor="middle" fill="#333" stroke="#333" stroke-width="0.1" x="99.20" y="344.10">80</text>
<text class="sf" font-size="3.9" text-anchor="middle" fill="#333" stroke="#333" stroke-width="0.1" x="120.80" y="344.10">100</text>
<text class="sf" font-size="3.9" text-anchor="middle" fill="#333" stroke="#333" stroke-width="0.1" x="142.40" y="344.10">120</text>
<text class="sf" font-size="4.3" textLength="43.5" lengthAdjust="spacingAndGlyphs" fill="#222" stroke="#222" stroke-width="0.1" x="55.10" y="347.24">Channels (FL2-A)</text>
<text class="se" font-size="5.4" textLength="26.8" lengthAdjust="spacingAndGlyphs" fill="#111" stroke="#111" stroke-width="0.2" x="82.00" y="267.88">BaF3GRprox</text>
<path d="M67.2 337.2 L68.8 331.3 L101.8 331.3 L106.8 329.9 L113.8 331.9 L120.8 337.2 Z" fill="url(#hatch)" stroke="#1a1a1a" stroke-width="0.5" />
<path d="M107.8 337.2 Q115.8 332.1 122.2 337.2 Z" fill="#d81014" stroke="#300" stroke-width="0.4" />
<path d="M64.5 268.3 L67.3 301.2 L68.4 313.2 L70.0 324.2 Q71.8 328.9 75.8 330.4 L99.8 330.4 L102.8 328.2 L109.8 328.8 L115.8 332.6 L122.2 337.2" fill="none" stroke="#1a1a1a" stroke-width="0.8" />
<path d="M56.8 337.2 L57.8 334.4 L59.1 328.7 L60.8 315.2 L61.8 297.2 L63.2 267.3 L64.2 267.3 L67.1 301.2 L68.6 317.2 L69.8 330.2 L71.0 337.2 Z" fill="#f2120e" stroke="#500" stroke-width="0.4" />
<path d="M63.0 271.3 L63.5 265.7 L64.2 265.7 L67.3 302.2 L66.3 302.2 L64.7 278.3 Z" fill="#2a0a0a" />
<path d="M62.8 337.2 Q66.8 332.2 70.0 332.0 L71.0 337.2 Z" fill="#c8141c" stroke="#600" stroke-width="0.4" />
<rect x="15.20" y="253.50" width="2.50" height="83.70" fill="#fff" stroke="#555" stroke-width="0.6" />
<line x1="166.50" y1="252.00" x2="166.50" y2="337.20" stroke="#1a1a1a" stroke-width="0.6" />
<line x1="163.90" y1="337.20" x2="296.10" y2="337.20" stroke="#1a1a1a" stroke-width="0.6" />
<path d="M165.20 334.33H166.50M165.20 331.46H166.50M165.20 328.60H166.50M165.20 325.73H166.50M163.50 322.86H166.50M165.20 319.99H166.50M165.20 317.12H166.50M165.20 314.26H166.50M165.20 311.39H166.50M163.50 308.52H166.50M165.20 305.65H166.50M165.20 302.78H166.50M165.20 299.92H166.50M165.20 297.05H166.50M163.50 294.18H166.50M165.20 291.31H166.50M165.20 288.44H166.50M165.20 285.58H166.50M165.20 282.71H166.50M163.50 279.84H166.50M165.20 276.97H166.50M165.20 274.10H166.50M165.20 271.24H166.50M165.20 268.37H166.50M163.50 265.50H166.50M165.20 262.63H166.50M165.20 259.76H166.50M165.20 256.90H166.50M165.20 254.03H166.50" fill="none" stroke="#1a1a1a" stroke-width="0.9" />
<text class="sf" font-size="3.8" text-anchor="middle" fill="#222" stroke="#222" stroke-width="0.1" transform="translate(161.10 322.86) rotate(-90)" x="0" y="1.36">200</text>
<text class="sf" font-size="3.8" text-anchor="middle" fill="#222" stroke="#222" stroke-width="0.1" transform="translate(161.10 308.52) rotate(-90)" x="0" y="1.36">400</text>
<text class="sf" font-size="3.8" text-anchor="middle" fill="#222" stroke="#222" stroke-width="0.1" transform="translate(161.10 294.18) rotate(-90)" x="0" y="1.36">600</text>
<text class="sf" font-size="3.8" text-anchor="middle" fill="#222" stroke="#222" stroke-width="0.1" transform="translate(161.10 279.84) rotate(-90)" x="0" y="1.36">800</text>
<text class="sf" font-size="3.8" text-anchor="middle" fill="#222" stroke="#222" stroke-width="0.1" transform="translate(161.10 265.50) rotate(-90)" x="0" y="1.36">1000</text>
<text class="sf" font-size="3.8" text-anchor="middle" fill="#222" stroke="#222" stroke-width="0.1" transform="translate(161.10 337.20) rotate(-90)" x="0" y="1.36">0</text>
<text class="sf" font-size="4.4" text-anchor="middle" textLength="15" lengthAdjust="spacingAndGlyphs" fill="#222" stroke="#222" stroke-width="0.12" transform="translate(157.00 295.00) rotate(-90)" x="0" y="1.58">Number</text>
<path d="M166.50 337.2v2.6M170.82 337.2v1.4M175.14 337.2v1.4M179.46 337.2v1.4M183.78 337.2v1.4M188.10 337.2v2.6M192.42 337.2v1.4M196.74 337.2v1.4M201.06 337.2v1.4M205.38 337.2v1.4M209.70 337.2v2.6M214.02 337.2v1.4M218.34 337.2v1.4M222.66 337.2v1.4M226.98 337.2v1.4M231.30 337.2v2.6M235.62 337.2v1.4M239.94 337.2v1.4M244.26 337.2v1.4M248.58 337.2v1.4M252.90 337.2v2.6M257.22 337.2v1.4M261.54 337.2v1.4M265.86 337.2v1.4M270.18 337.2v1.4M274.50 337.2v2.6M278.82 337.2v1.4M283.14 337.2v1.4M287.46 337.2v1.4M291.78 337.2v1.4M296.10 337.2v2.6" fill="none" stroke="#1a1a1a" stroke-width="0.9" />
<text class="sf" font-size="3.9" text-anchor="middle" fill="#333" stroke="#333" stroke-width="0.1" x="166.50" y="344.10">0</text>
<text class="sf" font-size="3.9" text-anchor="middle" fill="#333" stroke="#333" stroke-width="0.1" x="188.10" y="344.10">20</text>
<text class="sf" font-size="3.9" text-anchor="middle" fill="#333" stroke="#333" stroke-width="0.1" x="209.70" y="344.10">40</text>
<text class="sf" font-size="3.9" text-anchor="middle" fill="#333" stroke="#333" stroke-width="0.1" x="231.30" y="344.10">60</text>
<text class="sf" font-size="3.9" text-anchor="middle" fill="#333" stroke="#333" stroke-width="0.1" x="252.90" y="344.10">80</text>
<text class="sf" font-size="3.9" text-anchor="middle" fill="#333" stroke="#333" stroke-width="0.1" x="274.50" y="344.10">100</text>
<text class="sf" font-size="3.9" text-anchor="middle" fill="#333" stroke="#333" stroke-width="0.1" x="296.10" y="344.10">120</text>
<text class="sf" font-size="4.3" textLength="43.5" lengthAdjust="spacingAndGlyphs" fill="#222" stroke="#222" stroke-width="0.1" x="208.80" y="347.24">Channels (FL2-A)</text>
<text class="se" font-size="5.4" textLength="40.8" lengthAdjust="spacingAndGlyphs" fill="#111" stroke="#111" stroke-width="0.2" x="242.00" y="268.08">BaF3GRprox+NAC</text>
<path d="M221.9 337.2 L223.4 332.6 L256.4 332.6 L261.4 331.6 L268.4 333.1 L275.4 337.2 Z" fill="url(#hatch)" stroke="#1a1a1a" stroke-width="0.5" />
<path d="M262.4 337.2 Q270.4 333.3 276.9 337.2 Z" fill="#d81014" stroke="#300" stroke-width="0.4" />
<path d="M219.2 259.5 L222.0 301.2 L223.0 313.2 L224.7 324.2 Q226.4 330.8 230.4 331.9 L254.4 331.9 L257.4 330.2 L264.4 330.7 L270.4 333.6 L276.9 337.2" fill="none" stroke="#1a1a1a" stroke-width="0.8" />
<path d="M211.4 337.2 L212.4 334.4 L213.8 328.7 L215.4 315.2 L216.4 297.2 L217.9 258.5 L218.9 258.5 L221.8 301.2 L223.2 317.2 L224.5 330.2 L225.6 337.2 Z" fill="#f2120e" stroke="#500" stroke-width="0.4" />
<path d="M217.6 262.5 L218.1 256.9 L218.9 256.9 L222.0 302.2 L221.0 302.2 L219.3 269.5 Z" fill="#2a0a0a" />
<path d="M217.4 337.2 Q221.4 332.2 224.6 332.0 L225.6 337.2 Z" fill="#c8141c" stroke="#600" stroke-width="0.4" />
<path d="M183.0 337.2 L184.5 335.4 L187.5 336.1 L192.5 336.2 L204.5 337.2 Z" fill="#f2f3fc" stroke="#1a1a1a" stroke-width="0.7" />
<rect x="340.00" y="185.50" width="128.00" height="106.10" fill="#d0dcd7" />
<text class="sf" font-size="7.5" text-anchor="end" stroke="#000" stroke-width="0.1" x="334.20" y="293.38">0</text>
<text class="sf" font-size="7.5" text-anchor="end" stroke="#000" stroke-width="0.1" x="334.20" y="278.27">20</text>
<text class="sf" font-size="7.5" text-anchor="end" stroke="#000" stroke-width="0.1" x="334.20" y="263.16">40</text>
<text class="sf" font-size="7.5" text-anchor="end" stroke="#000" stroke-width="0.1" x="334.20" y="248.04">60</text>
<text class="sf" font-size="7.5" text-anchor="end" stroke="#000" stroke-width="0.1" x="334.20" y="232.93">80</text>
<text class="sf" font-size="7.5" text-anchor="end" stroke="#000" stroke-width="0.1" x="334.20" y="217.81">100</text>
<text class="sf" font-size="7.5" text-anchor="end" stroke="#000" stroke-width="0.1" x="334.20" y="202.70">120</text>
<text class="sf" font-size="7.5" text-anchor="end" stroke="#000" stroke-width="0.1" x="334.20" y="187.59">140</text>
<text class="sf" font-size="7.4" text-anchor="middle" stroke="#000" stroke-width="0.1" x="340.00" y="304.85">0</text>
<text class="sf" font-size="7.4" text-anchor="middle" stroke="#000" stroke-width="0.1" x="382.60" y="304.85">24</text>
<text class="sf" font-size="7.4" text-anchor="middle" stroke="#000" stroke-width="0.1" x="425.60" y="304.85">48</text>
<text class="sf" font-size="7.4" text-anchor="middle" stroke="#000" stroke-width="0.1" x="468.20" y="304.85">72</text>
<text class="sf" font-size="7.7" font-weight="700" text-anchor="middle" x="404.20" y="315.96">Hours</text>
<text class="sf" font-size="7.5" font-weight="700" text-anchor="middle" transform="translate(316.60 237.00) rotate(-90)" x="0" y="2.69">Cell Numbers x10000</text>
<line x1="425.60" y1="232.71" x2="425.60" y2="256.14" stroke="#1c2c2c" stroke-width="0.6" />
<line x1="423.80" y1="232.71" x2="427.40" y2="232.71" stroke="#1c2c2c" stroke-width="0.6" />
<line x1="423.80" y1="256.14" x2="427.40" y2="256.14" stroke="#1c2c2c" stroke-width="0.6" />
<line x1="468.20" y1="204.75" x2="468.20" y2="224.40" stroke="#1c2c2c" stroke-width="0.6" />
<line x1="466.40" y1="204.75" x2="470.00" y2="204.75" stroke="#1c2c2c" stroke-width="0.6" />
<line x1="466.40" y1="224.40" x2="470.00" y2="224.40" stroke="#1c2c2c" stroke-width="0.6" />
<line x1="468.20" y1="194.17" x2="468.20" y2="204.75" stroke="#2c6c7c" stroke-width="0.6" />
<line x1="466.40" y1="194.17" x2="470.00" y2="194.17" stroke="#2c6c7c" stroke-width="0.6" />
<line x1="466.40" y1="204.75" x2="470.00" y2="204.75" stroke="#2c6c7c" stroke-width="0.6" />
<polyline points="340.00,283.34 382.60,270.50 425.60,247.07 468.20,214.57" fill="none" stroke="#26269c" stroke-width="1.0" stroke-linejoin="round" />
<polyline points="340.00,283.34 382.60,270.50 425.60,239.51 468.20,196.44" fill="none" stroke="#b88cd8" stroke-width="0.9" stroke-linejoin="round" />
<polyline points="340.00,283.34 382.60,270.50 425.60,241.02 468.20,201.73" fill="none" stroke="#b8ecf0" stroke-width="0.7" stroke-linejoin="round" />
<polyline points="340.00,283.34 382.60,270.50 425.60,244.05 468.20,210.04" fill="none" stroke="#eaea8c" stroke-width="1.0" stroke-linejoin="round" />
<polyline points="340.00,283.57 382.60,289.24 425.60,290.45 468.20,290.30" fill="none" stroke="#7648d0" stroke-width="1.1" stroke-linejoin="round" />
<line x1="340.00" y1="283.34" x2="382.60" y2="270.50" stroke="#c8dcaa" stroke-width="1.7" />
<rect x="424.60" y="246.07" width="2" height="2" fill="#26269c"/>
<rect x="467.20" y="213.57" width="2" height="2" fill="#26269c"/>
<rect x="424.60" y="238.51" width="2" height="2" fill="#b88cd8"/>
<rect x="467.20" y="195.44" width="2" height="2" fill="#b88cd8"/>
<rect x="424.60" y="240.02" width="2" height="2" fill="#b8ecf0"/>
<rect x="467.20" y="200.73" width="2" height="2" fill="#b8ecf0"/>
<rect x="424.60" y="243.05" width="2" height="2" fill="#eaea8c"/>
<rect x="467.20" y="209.04" width="2" height="2" fill="#eaea8c"/>
<rect x="339.00" y="282.57" width="2" height="2" fill="#7648d0"/>
<rect x="381.60" y="288.24" width="2" height="2" fill="#7648d0"/>
<rect x="424.60" y="289.45" width="2" height="2" fill="#7648d0"/>
<rect x="467.20" y="289.30" width="2" height="2" fill="#7648d0"/>
<circle cx="382.6" cy="270.50" r="1.6" fill="#e4ecc0" stroke="#5a6438" stroke-width="0.6"/>
<line x1="479.50" y1="211.50" x2="489.00" y2="211.50" stroke="#26269c" stroke-width="1.0" />
<circle cx="484.2" cy="211.50" r="1.1" fill="#26269c"/>
<text class="sf" font-size="5.1" x="490.00" y="213.63">No H2O2</text>
<line x1="479.50" y1="222.00" x2="489.00" y2="222.00" stroke="#c868e0" stroke-width="1.0" />
<circle cx="484.2" cy="222.00" r="1.1" fill="#c868e0"/>
<text class="sf" font-size="5.1" x="490.00" y="224.13">0.1µM H2O2</text>
<line x1="479.50" y1="232.50" x2="489.00" y2="232.50" stroke="#f0f090" stroke-width="1.0" />
<circle cx="484.2" cy="232.50" r="1.1" fill="#f0f090"/>
<text class="sf" font-size="5.1" x="490.00" y="234.63">1µM H2O2</text>
<line x1="479.50" y1="242.80" x2="489.00" y2="242.80" stroke="#b0f0f0" stroke-width="1.0" />
<circle cx="484.2" cy="242.80" r="1.1" fill="#b0f0f0"/>
<text class="sf" font-size="5.1" x="490.00" y="244.93">10µM H2O2</text>
<line x1="479.50" y1="253.00" x2="489.00" y2="253.00" stroke="#7648d0" stroke-width="1.0" />
<circle cx="484.2" cy="253.00" r="1.1" fill="#7648d0"/>
<text class="sf" font-size="5.1" x="490.00" y="255.13">100µM</text>
</g></svg></body></html>
